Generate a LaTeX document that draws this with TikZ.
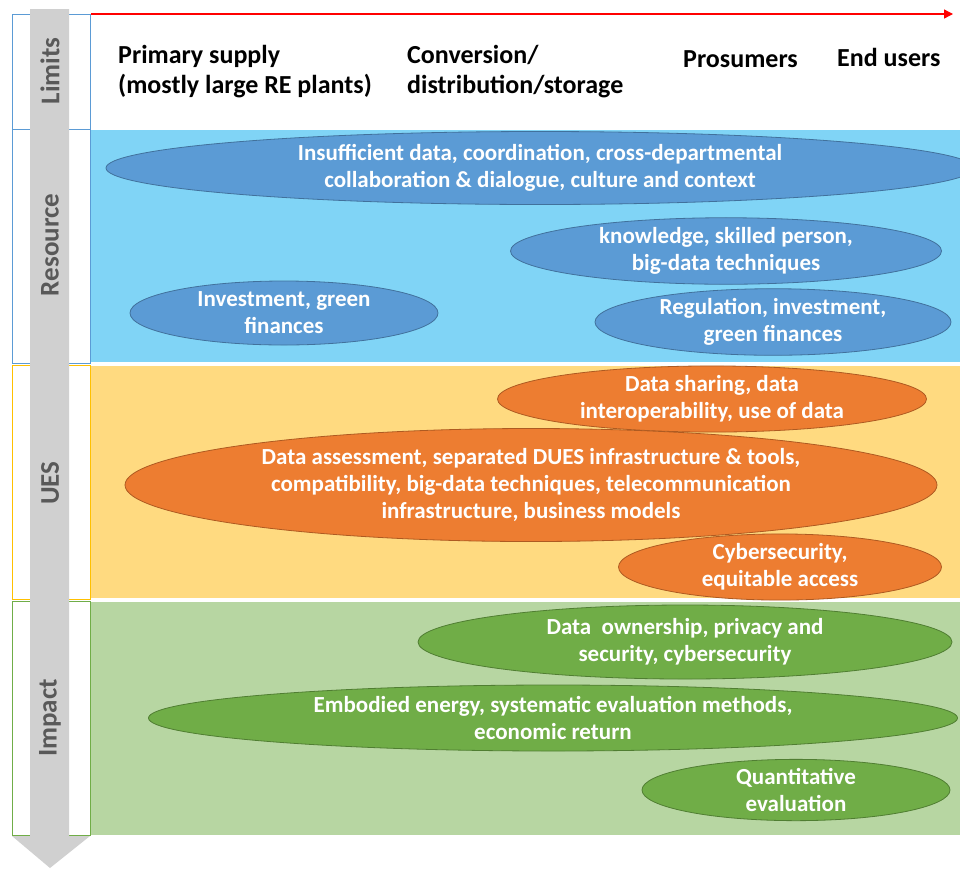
\documentclass[tikz,border=0pt]{standalone}
\usepackage{fontspec}
\setmainfont{Carlito}
\usetikzlibrary{shapes.geometric,arrows.meta}
\definecolor{bandblue}{HTML}{80D4F6}
\definecolor{bandyellow}{HTML}{FFDA80}
\definecolor{bandgreen}{HTML}{B7D6A2}
\definecolor{elblue}{HTML}{5B9BD5}
\definecolor{elblueb}{HTML}{41719C}
\definecolor{elorange}{HTML}{ED7D31}
\definecolor{elorangeb}{HTML}{AE5A21}
\definecolor{elgreen}{HTML}{70AD47}
\definecolor{elgreenb}{HTML}{507E32}
\definecolor{arrgray}{HTML}{D0D0D0}
\definecolor{labgray}{HTML}{595959}
\definecolor{limblue}{HTML}{5B9BD5}
\definecolor{limyellow}{HTML}{FFC000}
\begin{document}
\begin{tikzpicture}[x=1pt,y=-1pt,
  ell/.style={ellipse,inner sep=0pt,align=center,text=white,font=\bfseries\fontsize{23}{27}\selectfont,line width=0.8pt},
  bl/.style={ell,fill=elblue,draw=elblueb},
  orr/.style={ell,fill=elorange,draw=elorangeb},
  gr/.style={ell,fill=elgreen,draw=elgreenb},
  hdr/.style={anchor=west,align=left,font=\bfseries\fontsize{26}{30}\selectfont,inner sep=0pt},
  side/.style={rotate=90,text=labgray,font=\bfseries\fontsize{27}{32}\selectfont,inner sep=0pt},
  sbox/.style={line width=1pt}]
\useasboundingbox (0,0) rectangle (960,868);
% bands
\fill[bandblue] (90,130) rectangle (960,362);
\fill[bandyellow] (90,366) rectangle (960,598);
\fill[bandgreen] (90,602) rectangle (960,835);
% side boxes
\draw[sbox,draw=limblue] (12,14) rectangle (90,129);
\draw[sbox,draw=limblue] (12,129) rectangle (90,363);
\draw[sbox,draw=limyellow] (12,365) rectangle (90,599);
\draw[sbox,draw=elgreen] (12,601) rectangle (90,835);
% gray arrow
\fill[arrgray] (30,9) -- (69,9) -- (69,836) -- (90,836) -- (50,868) -- (12,836) -- (30,836) -- cycle;
\node[side] (lim) at (50,71) {Limits};
\node[side] (res) at (50,245) {Resource};
\node[side] (ues) at (50,483) {UES};
\node[side] (imp) at (50,718) {Impact};
% red arrow
\coordinate (ra) at (91,14);
\coordinate (rb) at (953,14);
\draw[red,line width=1.3pt,-{Triangle[length=9pt,width=9pt]}] (ra) -- (rb);
% headers
\node[hdr] (h1) at (118,72) {Primary supply\\(mostly large RE plants)};
\node[hdr] (h2) at (407,72) {Conversion/\\distribution/storage};
\node[hdr] (h3) at (683,59) {Prosumers};
\node[hdr] (h4) at (837,57) {End users};
% blue ellipses
\node[bl,minimum width=868pt,minimum height=73pt] (e1) at (540,168) {Insufficient data, coordination, cross-departmental\\collaboration \& dialogue, culture and context};
\node[bl,minimum width=431pt,minimum height=62pt] (e2) at (726,251) {knowledge, skilled person,\\big-data techniques};
\node[bl,minimum width=308pt,minimum height=64pt] (e3) at (284,313) {Investment, green\\finances};
\node[bl,minimum width=356pt,minimum height=62pt] (e4) at (773,322) {Regulation, investment,\\green finances};
% orange ellipses
\node[orr,minimum width=429pt,minimum height=60pt] (e5) at (712,399) {Data sharing, data\\interoperability, use of data};
\node[orr,minimum width=812pt,minimum height=113pt] (e6) at (531,485) {Data assessment, separated DUES infrastructure \& tools,\\compatibility, big-data techniques, telecommunication\\infrastructure, business models};
\node[orr,minimum width=323pt,minimum height=61pt] (e7) at (780,567) {Cybersecurity,\\equitable access};
% green ellipses
\node[gr,minimum width=534pt,minimum height=74pt] (e8) at (685,642) {Data~~ownership, privacy and\\security, cybersecurity};
\node[gr,minimum width=809pt,minimum height=66pt] (e9) at (553,718) {Embodied energy, systematic evaluation methods,\\economic return};
\node[gr,minimum width=308pt,minimum height=58pt] (e10) at (796,790) {Quantitative\\evaluation};
\end{tikzpicture}
\end{document}
